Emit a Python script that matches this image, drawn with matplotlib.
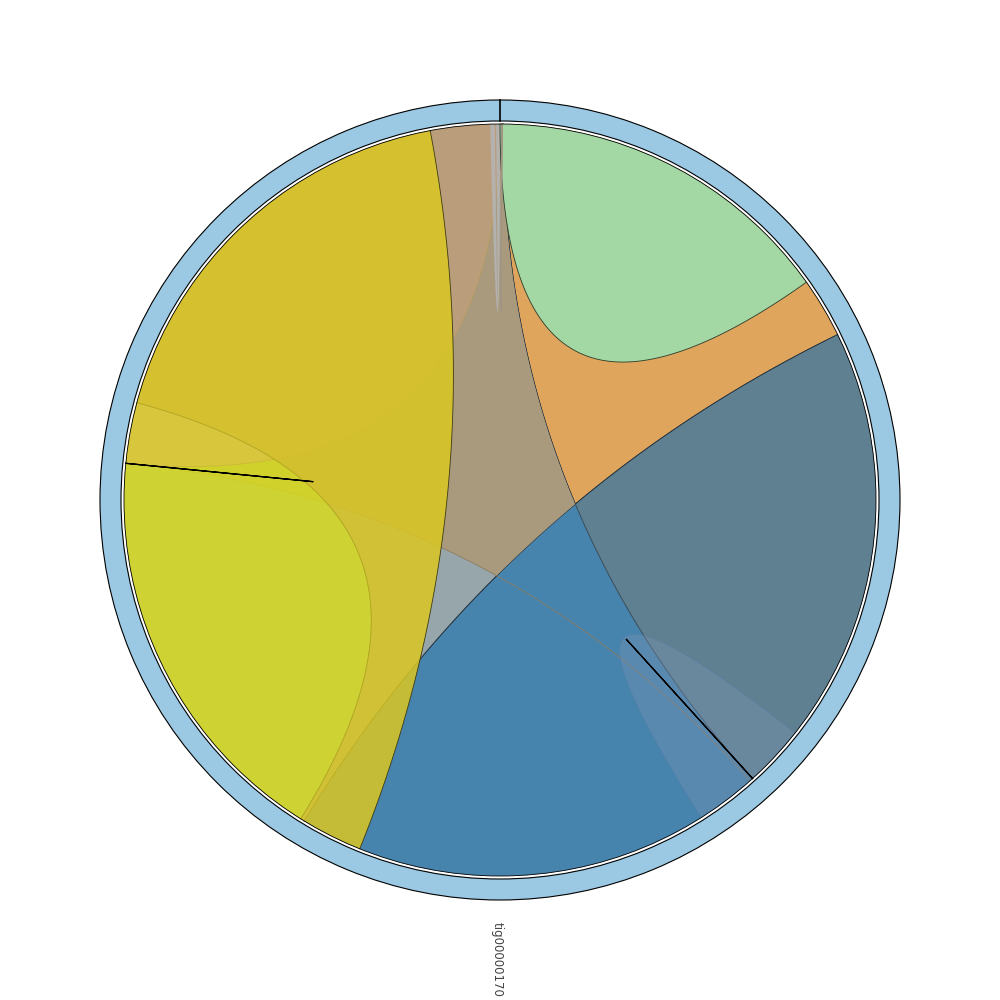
import numpy as np
import matplotlib
matplotlib.use("Agg")
import matplotlib.pyplot as plt
from matplotlib.patches import Polygon, Wedge, Circle
from matplotlib.path import Path

# sector / track
sector_name = "tig00000170"
r_link = 376
r_in, r_out = 379, 400

# links inside the one sector: (start1, end1, start2, end2), degrees clockwise from top
link_names = ["orange", "blue", "slate", "taupe", "bulge",
              "yellow", "warm", "mustard", "grey", "green"]
link_pos = [
    (0.5, 137.8, 137.8, 137.8),
    (63.9, 211.4, 211.4, 211.4),
    (63.9, 137.8, 211.4, 360.5),
    (275.6, 360.5, 137.8, 138.3),
    (128.3, 137.8, 137.8, 147.6),
    (212.0, 275.6, 275.6, 285.0),
    (275.6, 360.0, 360.0, 360.0),
    (285.0, 349.3, 201.9, 212.0),
    (358.5, 359.2, 359.4, 360.0),
    (0.0, 0.3, 0.3, 54.6),
]
link_twisted = [False, False, True, False, False, False, False, False, False, False]
link_colors = ["#dfa55c", "#4683ad", "#6a8086", "#ac997a", "#7e95b4",
               "#d9db1e", "#f2aa70", "#dbc722", "#b4b4b4", "#a3d7a3"]
link_alpha = [1.0, 1.0, 0.7, 0.9, 0.35, 0.85, 0.24, 0.85, 0.9, 1.0]
# border colour of the two curves of each link (None = no stroke)
link_edges = [
    (None, "#2b2b2b"),
    (None, "#2b2b2b"),
    ("#1e3040", "#1e3040"),
    (None, "#8c7c60"),
    (None, "#5a7fa8"),
    (None, "#b3a925"),
    (None, "#c0a040"),
    ("#3d3a10", "#b3a925"),
    (None, None),
    (None, "#2b3b2b"),
]

# zero-width links (start and end at the same position)
spike_pos = [0.3, 275.6, 137.8]
spike_colors = ["#a09585", "black", "black"]


def pt(theta, r=r_link):
    a = np.deg2rad(theta)
    return np.array([r * np.sin(a), r * np.cos(a)])


def arc(t1, t2, r=r_link, n=120):
    th = np.deg2rad(np.linspace(t1, t2, n))
    return np.column_stack([r * np.sin(th), r * np.cos(th)])


def bez(t1, t2, n=80):
    p0, p2 = pt(t1), pt(t2)
    t = np.linspace(0, 1, n)[:, None]
    return (1 - t) ** 2 * p0 + t ** 2 * p2


def link_shape(a1, a2, b1, b2, twisted):
    if twisted:
        c1, c2 = bez(a2, b2), bez(b1, a1)
        parts = [arc(a1, a2), c1, arc(b2, b1), c2]
    else:
        c1 = bez(a2, b1) if a2 != b1 else None
        c2 = bez(b2, a1)
        parts = [arc(a1, a2)]
        if c1 is not None:
            parts.append(c1)
        parts += [arc(b1, b2), c2]
    return np.vstack(parts), c1, c2


def main():
    fig = plt.figure(figsize=(10, 10), dpi=100, facecolor="white")
    ax = fig.add_axes([0, 0, 1, 1])
    ax.set_xlim(-500, 500)
    ax.set_ylim(-500, 500)
    ax.set_aspect("equal")
    ax.axis("off")

    slate_path = None
    for i, name in enumerate(link_names):
        a1, a2, b1, b2 = link_pos[i]
        verts, c1, c2 = link_shape(a1, a2, b1, b2, link_twisted[i])
        poly = Polygon(verts, closed=True, facecolor=link_colors[i],
                       alpha=link_alpha[i], edgecolor="none", zorder=2 + i)
        ax.add_patch(poly)
        if name == "slate":
            slate_path = Path(verts)
        if name == "taupe":
            poly.set_clip_path(slate_path, ax.transData)
        for c, ec in zip((c1, c2), link_edges[i]):
            if c is not None and ec is not None:
                ax.plot(c[:, 0], c[:, 1], color=ec, lw=0.6,
                        alpha=min(1.0, link_alpha[i] + 0.2), zorder=2 + i)

    for th, col in zip(spike_pos, spike_colors):
        c = bez(th, th)
        ax.plot(c[:, 0], c[:, 1], color=col, lw=0.9, zorder=20)

    # outer track
    ax.add_patch(Wedge((0, 0), r_out, 0, 360, width=r_out - r_in,
                       facecolor="#9bc9e3", edgecolor="black", lw=0.8, zorder=21))
    p_in, p_out = pt(0, r_in), pt(0, r_out)
    ax.plot([p_in[0], p_out[0]], [p_in[1], p_out[1]], color="black", lw=1.2, zorder=22)
    ax.add_patch(Circle((0, 0), r_link, facecolor="none", edgecolor="black",
                        lw=0.6, zorder=21))

    ax.text(-3, -422, sector_name, rotation=-90, rotation_mode="anchor",
            ha="left", va="center", fontsize=8.5, color="#444444")

    fig.savefig("out.png", dpi=100, facecolor="white")


if __name__ == '__main__':
    main()
